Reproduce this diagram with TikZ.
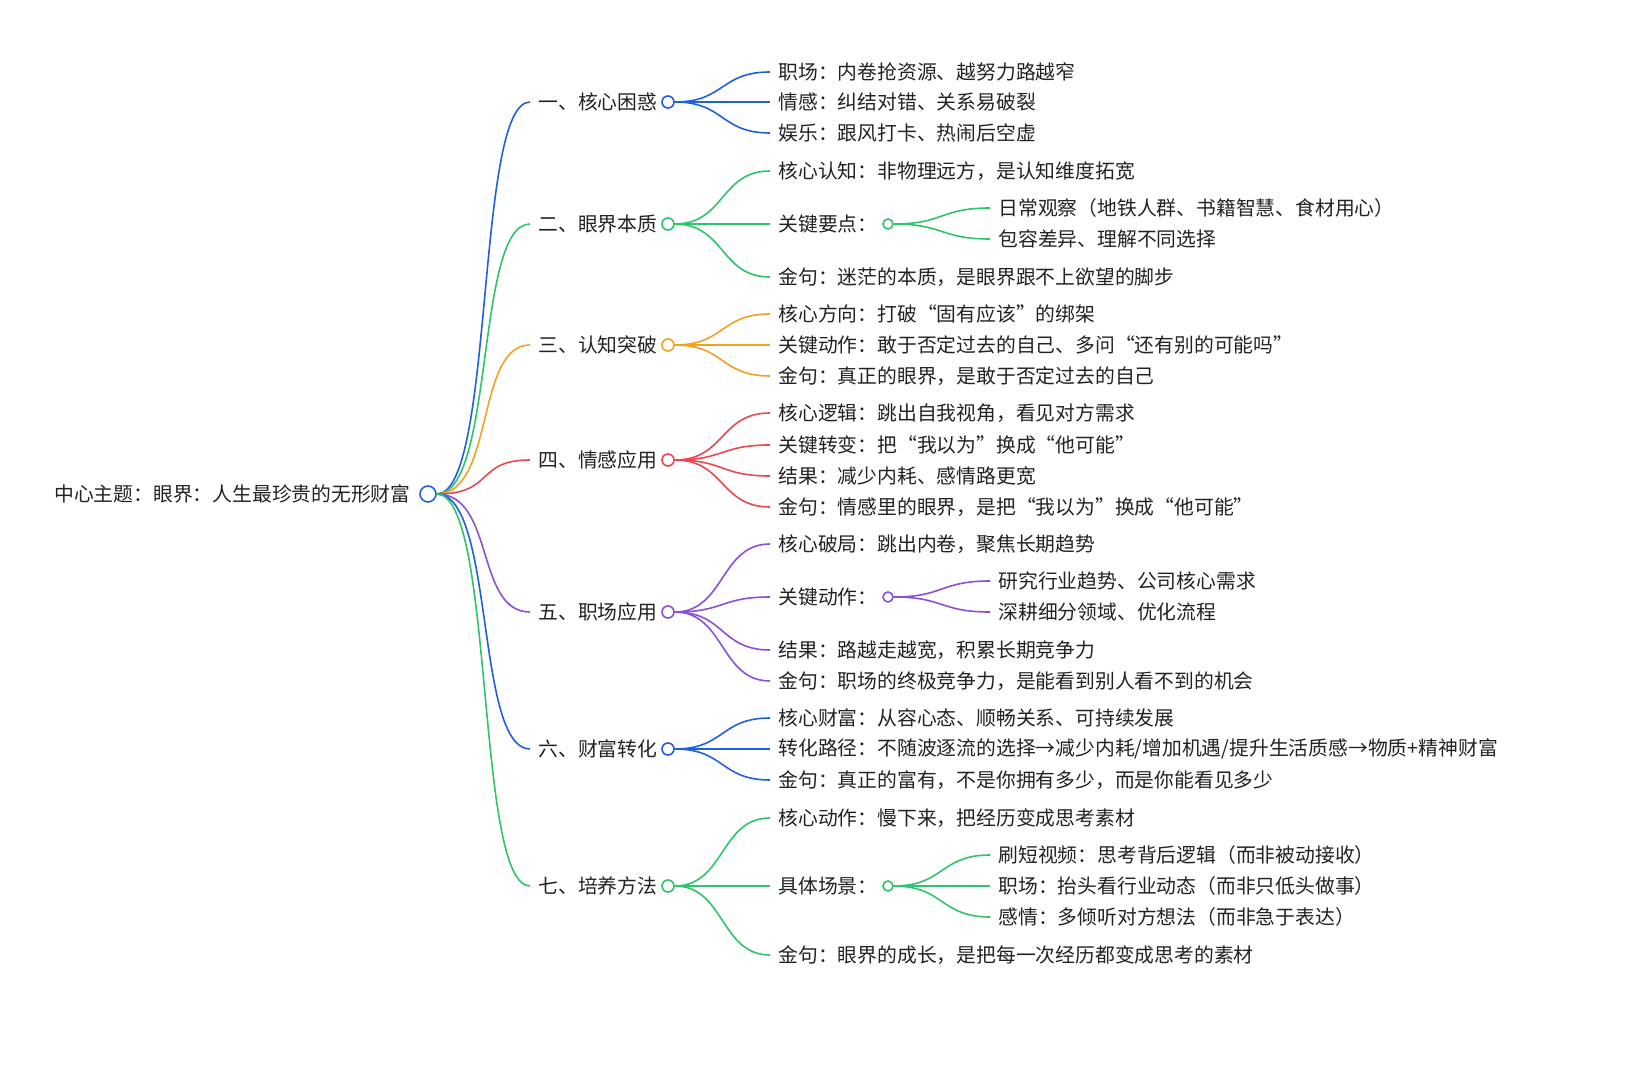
\documentclass[tikz,border=0pt]{standalone}
\usepackage{fontspec}
\setmainfont{Noto Sans CJK SC}
\definecolor{cblue}{HTML}{1F5FE0}
\definecolor{cgreen}{HTML}{2DC46A}
\definecolor{corange}{HTML}{F2A11E}
\definecolor{cred}{HTML}{E8484E}
\definecolor{cpurple}{HTML}{8A50D6}
\definecolor{ink}{HTML}{222222}
\tikzset{
  txt/.style={anchor=west, inner sep=4pt, font=\fontsize{9.9}{11}\selectfont, text=ink},
  dot/.style={circle, draw=#1, fill=white, line width=0.8pt, inner sep=0pt, minimum size=6pt},
  link/.style={draw=#1, line width=0.8pt},
}
\newcommand{\twig}[3]{\draw[link=#1] (#2) .. controls +(50,0) and +(-50,0) .. (#3.west);}
\begin{document}
\begin{tikzpicture}[x=0.5pt,y=-0.5pt]
\useasboundingbox (0,0) rectangle (1649,1080);
% root
\node[txt, anchor=east] (root) at (419,494) {中心主题：眼界：人生最珍贵的无形财富};
\node[dot=cblue, minimum size=8pt] (rc) at (428,494) {};
% branches
\node[txt] (b1) at (530,102) {一、核心困惑};
\node[txt] (b2) at (530,224) {二、眼界本质};
\node[txt] (b3) at (530,345) {三、认知突破};
\node[txt] (b4) at (530,460) {四、情感应用};
\node[txt] (b5) at (530,612) {五、职场应用};
\node[txt] (b6) at (530,749) {六、财富转化};
\node[txt] (b7) at (530,886) {七、培养方法};
\foreach \b/\c in {b1/cblue,b2/cgreen,b3/corange,b4/cred,b5/cpurple,b6/cblue,b7/cgreen}{
  \draw[link=\c] (rc.east) .. controls (495,494) and (475,0 |- \b.west) .. (\b.west);
  \node[dot=\c] (\b c) at (668,0 |- \b.west) {};
}
% branch 1
\node[txt] (l11) at (770,72) {职场：内卷抢资源、越努力路越窄};
\node[txt] (l12) at (770,102) {情感：纠结对错、关系易破裂};
\node[txt] (l13) at (770,133) {娱乐：跟风打卡、热闹后空虚};
\foreach \l in {l11,l12,l13} {\twig{cblue}{b1c.east}{\l}}
% branch 2
\node[txt] (l21) at (770,171) {核心认知：非物理远方，是认知维度拓宽};
\node[txt] (l22) at (770,224) {关键要点：};
\node[txt] (l23) at (770,277) {金句：迷茫的本质，是眼界跟不上欲望的脚步};
\foreach \l in {l21,l22,l23} {\twig{cgreen}{b2c.east}{\l}}
\node[dot=cgreen, minimum size=5pt] (l22c) at (888,224) {};
\node[txt] (s221) at (990,208) {日常观察（地铁人群、书籍智慧、食材用心）};
\node[txt] (s222) at (990,239) {包容差异、理解不同选择};
\foreach \l in {s221,s222} {\twig{cgreen}{l22c.east}{\l}}
% branch 3
\node[txt] (l31) at (770,314) {核心方向：打破“固有应该”的绑架};
\node[txt] (l32) at (770,345) {关键动作：敢于否定过去的自己、多问“还有别的可能吗”};
\node[txt] (l33) at (770,376) {金句：真正的眼界，是敢于否定过去的自己};
\foreach \l in {l31,l32,l33} {\twig{corange}{b3c.east}{\l}}
% branch 4
\node[txt] (l41) at (770,413) {核心逻辑：跳出自我视角，看见对方需求};
\node[txt] (l42) at (770,445) {关键转变：把“我以为”换成“他可能”};
\node[txt] (l43) at (770,476) {结果：减少内耗、感情路更宽};
\node[txt] (l44) at (770,507) {金句：情感里的眼界，是把“我以为”换成“他可能”};
\foreach \l in {l41,l42,l43,l44} {\twig{cred}{b4c.east}{\l}}
% branch 5
\node[txt] (l51) at (770,544) {核心破局：跳出内卷，聚焦长期趋势};
\node[txt] (l52) at (770,597) {关键动作：};
\node[txt] (l53) at (770,650) {结果：路越走越宽，积累长期竞争力};
\node[txt] (l54) at (770,681) {金句：职场的终极竞争力，是能看到别人看不到的机会};
\foreach \l in {l51,l52,l53,l54} {\twig{cpurple}{b5c.east}{\l}}
\node[dot=cpurple, minimum size=5pt] (l52c) at (888,597) {};
\node[txt] (s521) at (990,581) {研究行业趋势、公司核心需求};
\node[txt] (s522) at (990,612) {深耕细分领域、优化流程};
\foreach \l in {s521,s522} {\twig{cpurple}{l52c.east}{\l}}
% branch 6
\node[txt] (l61) at (770,718) {核心财富：从容心态、顺畅关系、可持续发展};
\node[txt] (l62) at (770,749) {转化路径：不随波逐流的选择→减少内耗/增加机遇/提升生活质感→物质+精神财富};
\node[txt] (l63) at (770,780) {金句：真正的富有，不是你拥有多少，而是你能看见多少};
\foreach \l in {l61,l62,l63} {\twig{cblue}{b6c.east}{\l}}
% branch 7
\node[txt] (l71) at (770,818) {核心动作：慢下来，把经历变成思考素材};
\node[txt] (l72) at (770,886) {具体场景：};
\node[txt] (l73) at (770,955) {金句：眼界的成长，是把每一次经历都变成思考的素材};
\foreach \l in {l71,l72,l73} {\twig{cgreen}{b7c.east}{\l}}
\node[dot=cgreen, minimum size=5pt] (l72c) at (888,886) {};
\node[txt] (s721) at (990,855) {刷短视频：思考背后逻辑（而非被动接收）};
\node[txt] (s722) at (990,886) {职场：抬头看行业动态（而非只低头做事）};
\node[txt] (s723) at (990,917) {感情：多倾听对方想法（而非急于表达）};
\foreach \l in {s721,s722,s723} {\twig{cgreen}{l72c.east}{\l}}
\end{tikzpicture}
\end{document}
